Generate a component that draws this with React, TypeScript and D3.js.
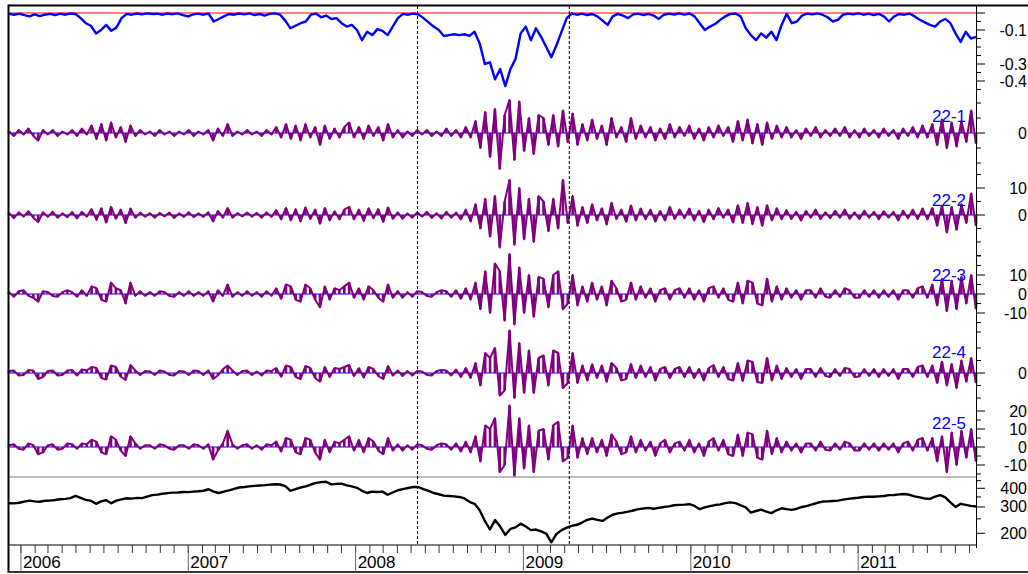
import React from "react";
import * as d3 from "d3";

// ---- series ----
const START = new Date(2005, 11, 6);
const END = new Date(2011, 8, 15);
const MARKER_DATES = [new Date(2008, 4, 15), new Date(2009, 3, 11)];

// drawdown of the index (fraction)
const DRAWDOWN = [
  -0.005, -0.01, -0.004, -0.012, -0.02, -0.008, -0.018, -0.01, -0.005, -0.012,
  -0.004, -0.01, -0.003, -0.006, -0.03, -0.06, -0.075, -0.12, -0.1, -0.07,
  -0.105, -0.085, -0.03, -0.005, -0.01, -0.003, -0.008, -0.002, -0.006, -0.004,
  -0.01, -0.003, -0.007, -0.002, -0.012, -0.02, -0.008, -0.004, -0.01, -0.003,
  -0.05, -0.035, -0.02, -0.006, -0.01, -0.003, -0.008, -0.002, -0.012, -0.006,
  -0.015, -0.004, -0.002, -0.01, -0.045, -0.09, -0.075, -0.06, -0.05, -0.01,
  -0.003, -0.025, -0.015, -0.035, -0.03, -0.06, -0.08, -0.07, -0.1, -0.16,
  -0.11, -0.13, -0.095, -0.105, -0.13, -0.08, -0.03, -0.005, -0.01, -0.003,
  -0.008, -0.03, -0.055, -0.08, -0.1, -0.135, -0.13, -0.125, -0.13, -0.125,
  -0.135, -0.11, -0.18, -0.3, -0.29, -0.39, -0.33, -0.43, -0.33, -0.27,
  -0.12, -0.08, -0.16, -0.09, -0.14, -0.2, -0.26, -0.19, -0.11, -0.03,
  -0.003, -0.01, -0.004, -0.012, -0.006, -0.02, -0.045, -0.07, -0.02, -0.005,
  -0.015, -0.03, -0.008, -0.004, -0.012, -0.005, -0.015, -0.035, -0.01, -0.004,
  -0.009, -0.002, -0.01, -0.003, -0.02, -0.06, -0.1, -0.08, -0.065, -0.04,
  -0.02, -0.005, -0.003, -0.02, -0.09, -0.13, -0.16, -0.12, -0.145, -0.11,
  -0.16, -0.07, -0.005, -0.06, -0.05, -0.015, -0.003, -0.008, -0.002, -0.01,
  -0.025, -0.05, -0.04, -0.01, -0.004, -0.008, -0.002, -0.01, -0.004, -0.012,
  -0.005, -0.02, -0.05, -0.02, -0.006, -0.01, -0.003, -0.02, -0.04, -0.055,
  -0.07, -0.08, -0.05, -0.035, -0.06, -0.12, -0.17, -0.11, -0.15, -0.14,
];

// index level (log axis)
const INDEX_LEVEL = [
  318, 317, 320, 326, 331, 327, 325, 330, 331, 334,
  338, 340, 344, 356, 345, 335, 330, 315, 327, 333,
  318, 331, 337, 343, 341, 345, 344, 352, 360, 363,
  368, 371, 374, 375, 378, 377, 380, 382, 385, 394,
  380, 372, 380, 387, 396, 405, 408, 412, 415, 418,
  420, 423, 426, 424, 413, 385, 395, 405, 412, 424,
  435, 440, 442, 425, 428, 430, 418, 412, 403, 385,
  372, 380, 378, 380, 362, 375, 388, 395, 402, 408,
  408, 395, 384, 372, 365, 357, 355, 353, 350, 342,
  325, 315, 285, 242, 212, 245, 222, 195, 214, 219,
  232, 222, 210, 212, 206, 199, 174, 198, 210, 218,
  224, 228, 236, 246, 251, 246, 242, 255, 266, 272,
  275, 279, 284, 290, 293, 296, 292, 296, 300, 303,
  308, 310, 311, 313, 305, 290, 298, 304, 309, 312,
  318, 322, 318, 308, 298, 275, 282, 288, 279, 273,
  285, 294, 290, 287, 292, 300, 305, 312, 320, 326,
  327, 329, 331, 336, 340, 343, 346, 350, 352, 351,
  353, 355, 360, 361, 364, 366, 362, 353, 348, 342,
  340, 352, 360, 348, 322, 300, 315, 310, 305, 302,
];

const OSC_22_1 = [
  1, -2, 2, -1, 3, -2, -5, 2, -1, 2,
  -2, 1, -1, 2, -2, 3, -1, 5, -4, 6,
  -5, 7, -3, 4, -6, 5, -2, 2, -1, 1,
  -2, 2, -1, 1, -2, 1, -1, 2, -2, 1,
  -1, 2, -5, 3, -2, 6, -2, 1, -1, 2,
  -1, 1, -2, 2, -1, 4, -3, 6, -4, 5,
  -5, 6, -3, 4, -8, 5, -4, 3, -3, 4,
  7, -3, 4, -4, 5, -2, 4, -5, 6, -3,
  2, -3, 1, -2, 2, -1, 2, -2, 1, -2,
  3, -2, 2, -3, 4, -3, 8, -10, 14, -16,
  16, -24, 12, 22, -18, 21, -12, 10, -14, 12,
  10, -8, 12, -9, 15, -6, 13, -8, 6, -5,
  9, -4, 5, -8, 10, -3, 4, -6, 10, -4,
  5, -3, 4, -5, 3, -4, 6, -3, 4, -2,
  5, -4, 3, -5, 4, -3, 5, -2, 4, -6,
  8, -5, 9, -7, 6, -8, 7, -4, 5, -3,
  4, -3, 2, -4, 3, -2, 4, -3, 2, -2,
  3, -2, 4, -3, 2, -3, 3, -2, 2, -3,
  3, -2, 2, -4, 3, -2, 4, -3, 5, -3,
  6, -8, 9, -10, 7, -9, 8, -6, 15, -7,
];

const OSC_22_2 = [
  0.8, -1.2, 1, -0.6, 1.4, -1, -2.6, 1, -0.7, 1.2,
  -1, 0.6, -0.8, 1.1, -1.3, 1.2, -0.6, 2.2, -1.8, 2.5,
  -2.8, 3, -1.4, 2, -3, 2.4, -1, 0.9, -0.6, 0.7,
  -1, 0.8, -0.5, 0.9, -1.1, 0.6, -0.7, 1, -0.8, 0.6,
  -0.7, 1, -2.4, 1.5, -1, 2.6, -1, 0.7, -0.5, 0.9,
  -0.6, 0.8, -1, 1, -0.7, 1.8, -1.6, 2.6, -2, 2.2,
  -2.4, 2.8, -1.5, 2, -3.2, 2.6, -2, 1.4, -1.6, 2,
  3, -1.6, 2, -2.2, 2.5, -1.2, 2.2, -2.6, 2.8, -1.4,
  1, -1.4, 0.6, -1, 1, -0.6, 1.2, -1.1, 0.7, -1.3,
  1.2, -1, 0.9, -1.6, 2, -2.4, 4, -5, 6, -8,
  7, -12, 5, 13, -11, 10, -9, 6, -10, 7,
  5, -6, 6, -5, 13, -3, 7, -4, 3, -3,
  4, -2, 2.5, -3.5, 4.5, -1.5, 2, -2.5, 3.5, -2,
  2.4, -1.6, 2, -2.4, 1.5, -2, 3, -1.5, 2, -1.2,
  2.4, -2, 1.6, -2.6, 2, -1.6, 2.6, -1, 2, -2.8,
  3.6, -3, 4.5, -3.4, 3, -4, 3.6, -2, 2.5, -1.6,
  1.8, -1.5, 1.2, -2, 1.5, -1, 2, -1.5, 1, -1.2,
  1.6, -1, 2, -1.4, 1, -1.5, 1.6, -1, 1.2, -1.6,
  1.4, -1, 1.2, -2, 1.6, -1.2, 2, -1.5, 2.4, -1.6,
  2.6, -4, 3.5, -6.5, 3, -5.5, 4, -3, 8, -4,
];

const OSC_22_3 = [
  1, -1.5, 1.5, 2, -1, -2, -4, 1.5, 1, -1,
  -1.5, 1, 2, 1, -1.5, 2, -1, 4, 3, -3,
  -4, 6, 3, 2, -5, 6, -1, 1.5, -1, 1,
  -1, 1.5, 1, -1, -1.5, 1, -1, 1.5, -1, 1,
  -1, 1.5, -4, 2, -1, 5, -1.5, 1, -1, 1.5,
  -1, 1, -1.5, 1.5, -1, 3, -2.5, 5, 4, -3,
  -4, 5, 3, -3, -7, 4, -3, 3, 2, 4,
  6, -2, 3, -3, 4, 2, -2, -4, 5, -2,
  1.5, -2, 1, -1.5, 1.5, 1, -1, -1.5, 1, 2,
  1.5, -1.5, 2, -2.5, 3, -3, 6, -8, 12, -10,
  16, 12, -14, 21, -16, 14, -10, 10, -12, 9,
  8, -7, 10, 12, -8, -5, 10, -6, 4, -4,
  6, -3, 4, -6, 7, 3, -4, -3, 6, -3,
  4, -2, 3, -4, 2, 3, -3, 2, 3, -2,
  3, -3, 2, -4, 3, 4, -2, 3, -3, -4,
  6, -5, 7, 6, -5, -6, 8, -4, 4, -3,
  3, -2, 2, -3, 2, 2, -2, 3, -1.5, -2,
  2, -1.5, 3, 2, -2, -2, 2, -1.5, 2, -2,
  2, -1.5, 2, -3, 2, 2, -2, 3, 4, -2,
  5, -6, 8, -9, 7, -8, 9, -5, 10, -8,
];

const OSC_22_4 = [
  0.8, 1, -1, -0.8, 1.2, 1, -2.4, -1.6, 0.8, 1,
  -1, -0.8, 1, 1.2, -1, 1.4, 1, 2.4, 2, -2,
  -2.6, 3, 2.4, -1.5, -2.8, 3.2, 1, -0.8, 0.8, 0.6,
  -0.8, 1, 0.6, -0.8, -1, 0.8, 0.6, -0.8, 1, 0.8,
  -0.8, 1, -2.4, -1, 1.5, 3, 1, -0.8, 0.8, 1,
  -0.8, 0.6, -1, 1, 0.8, 2, -1.5, 3, 2.4, -1.6,
  -2.4, 2.8, 2, -2, -3.5, 2.4, -1.6, 2, 1.6, 2.4,
  3.2, -1.2, 2, -1.8, 2.4, 1.6, -1.2, -2.4, 2.8, -1,
  1, -1.2, 0.8, -1, 0.8, 0.6, -0.8, -1, 0.8, 1.2,
  1, -1, 1.4, -1.6, 2, -2, 4, -5, 8, 6,
  10, -9, -7, 17, -10, 12, -8, 9, -8, 6,
  7, -5, 9, 8, -6, -4, 8, -4, 3, -3,
  3.5, -2, 3, -3.5, 4, 2, -3, -2.4, 3.6, -2,
  3, -1.6, 2.4, -3, 1.6, 2.4, -2, 1.6, 2.4, -1.6,
  2.4, -2, 1.6, -3, 2, 3.2, -1.6, 2.4, -2.4, -3,
  4, -3.2, 5, 4.4, -3.6, -4, 6, -3, 3, -2.4,
  2, -1.6, 1.6, -2.4, 1.6, 1.6, -1.6, 2, -1.2, -1.6,
  1.6, -1.2, 2, 1.6, -1.6, -1.4, 1.6, -1.2, 1.6, -1.6,
  1.6, -1.2, 1.6, -2.4, 1.6, 1.6, -1.6, 2.4, 3, -1.6,
  3, -4, 4.5, -5, 3.6, -6, 5, -3.5, 6, -4,
];

const OSC_22_5 = [
  1, 1.5, -1, -1.5, 2, 1, -4, -3, 1, 1.5,
  -1.5, -1, 2, 1.5, -1, 2, 1.5, 4, 3, -3,
  -4, 6, 4, -2, -5, 6, 2, -1, 1, 1,
  -1, 1.5, 1, -1, -1.5, 1, 1, -1, 1.5, 1,
  -1, 1.5, -7, -2, 2, 9, 1.5, -1, 1, 1.5,
  -1, 1, -1.5, 1.5, 1, 3, -2.5, 5, 4, -3,
  -4, 5, 4, -3, -7, 4, -3, 3, 2, 4,
  6, -2, 4, -3, 5, 3, -2, -4, 5, -2,
  1.5, -2, 1, -1.5, 1.5, 1, -1, -1.5, 1, 2,
  1.5, -1.5, 2, -2.5, 3, -3, 6, -8, 12, 10,
  16, -14, -10, 23, -16, 16, -12, 12, -14, 9,
  10, -7, 12, 14, -8, -6, 12, -6, 5, -4,
  5, -3, 4, -5, 7, 3, -4, -3, 6, -3,
  4, -2, 3, -5, 2, 4, -3, 2, 3, -2,
  4, -3, 2, -5, 3, 5, -2, 4, -4, -5,
  7, -5, 8, 7, -6, -7, 9, -4, 5, -3,
  3, -2, 2, -3, 2, 2, -2, 3, -1.5, -2,
  2, -1.5, 3, 2, -2, -2, 2, -1.5, 2, -2,
  2, -1.5, 2, -3, 2, 3, -2, 4, 5, -2,
  5, -8, 6, -14, 8, -10, 9, -6, 10, -8,
];

const OSC_NAMES = ["22-1", "22-2", "22-3", "22-4", "22-5"];
const DRAWDOWN_TICK_LABELS = [-0.1, -0.3, -0.4];
const OSC_TICK_LABELS = [[0], [10, 0], [10, 0, -10], [0], [20, 10, 0, -10]];
const INDEX_TICKS = [200, 250, 300, 350, 400, 450];
const INDEX_TICK_LABELS = [400, 300, 200];

// ---- layout ----
const W = 1028;
const H = 574;
const LEFT = 9;
const RIGHT = 976;
const TOP = 6;
const PLOT_BOTTOM = 545;
const INDEX_TOP = 477;
const AXIS_BOTTOM = 572;
const FONT = "'Liberation Sans', Arial, Helvetica, sans-serif";
const PURPLE = "#800080";
const BLUE = "#0000ff";
const BAR_W = 2.6;

const dateGrid = (n: number) => {
  const t0 = +START;
  const t1 = +END;
  return d3.range(n).map((i) => new Date(t0 + ((t1 - t0) * i) / (n - 1)));
};

type Scale = (v: number) => number;

function RightTicks({ scale, ticks, labels, fmt }: { scale: Scale; ticks: number[]; labels: number[]; fmt: (v: number) => string }) {
  return (
    <g>
      {ticks.map((t, i) => {
        const major = labels.includes(t) || t === 0;
        const y = scale(t);
        return <line key={"t" + i} x1={RIGHT} x2={RIGHT + (major ? 9 : 5)} y1={y} y2={y} stroke="#000" strokeWidth={1} />;
      })}
      {labels.map((t, i) => (
        <text key={"l" + i} x={1027} y={scale(t)} textAnchor="end" dominantBaseline="central" fontSize={16} fontFamily={FONT} fill="#000">
          {fmt(t)}
        </text>
      ))}
    </g>
  );
}

export default function App() {
  const x = d3.scaleTime().domain([START, END]).range([LEFT, RIGHT]);

  // drawdown panel
  const yDD = d3.scaleLinear().domain([-0.45, 0]).range([89.5, 13]);
  const ddDates = dateGrid(DRAWDOWN.length);
  const ddPath = d3
    .line<number>()
    .x((_, i) => x(ddDates[i]))
    .y((d) => yDD(d))(DRAWDOWN);

  // oscillator panels: a spike from zero for each value, joined by a line
  const oscPanels = [
    { values: OSC_22_1, domain: [-25, 25], range: [170.5, 95.5], step: 10, labelDy: 17 },
    { values: OSC_22_2, domain: [-15, 15], range: [255.5, 174.5], step: 5, labelDy: 15 },
    { values: OSC_22_3, domain: [-20, 20], range: [332, 256], step: 5, labelDy: 19 },
    { values: OSC_22_4, domain: [-12, 12], range: [403, 343], step: 5, labelDy: 21 },
    { values: OSC_22_5, domain: [-16, 20], range: [475.8, 411], step: 5, labelDy: 24 },
  ].map((p, k) => {
    const y = d3.scaleLinear().domain(p.domain).range(p.range);
    const dates = dateGrid(p.values.length);
    const y0 = y(0);
    const bars = p.values.map((v, i) => {
      const yv = y(v);
      const h = Math.max(Math.abs(yv - y0), 2);
      return { x: x(dates[i]) - BAR_W / 2, y: v >= 0 ? y0 - h : y0, h };
    });
    const path = d3
      .line<number>()
      .x((_, i) => x(dates[i]))
      .y((d) => y(d))(p.values);
    const ticks = d3
      .range(Math.ceil(p.domain[0] / p.step) * p.step, p.domain[1] + 1e-6, p.step)
      .filter((t) => t >= p.domain[0] && t <= p.domain[1]);
    return { ...p, y, bars, path, ticks, name: OSC_NAMES[k], labels: OSC_TICK_LABELS[k] };
  });

  // index panel (log scale)
  const yIdx = d3.scaleLog().domain([167, 476]).range([PLOT_BOTTOM, INDEX_TOP]);
  const idxDates = dateGrid(INDEX_LEVEL.length);
  const idxPath = d3
    .line<number>()
    .x((_, i) => x(idxDates[i]))
    .y((d) => yIdx(d))(INDEX_LEVEL);

  // time axis
  const months = d3.timeMonth.range(d3.timeMonth.ceil(START), END);
  const years = d3.timeYear.range(d3.timeYear.ceil(START), END);
  const fmtYear = d3.timeFormat("%Y");

  return (
    <svg
      width={W}
      height={H}
      viewBox={`0 0 ${W} ${H}`}
      style={{ position: "absolute", left: 0, top: 0, background: "#fff", display: "block" }}
    >
      <rect x={0} y={0} width={W} height={H} fill="#fff" />

      {/* drawdown */}
      <line x1={LEFT} x2={RIGHT} y1={yDD(0)} y2={yDD(0)} stroke="#ff0000" strokeWidth={1} />
      <path d={ddPath ?? ""} fill="none" stroke={BLUE} strokeWidth={2.4} strokeLinejoin="round" />
      <RightTicks
        scale={yDD}
        ticks={d3.range(0, -0.4501, -0.05).map((v) => Math.round(v * 100) / 100)}
        labels={DRAWDOWN_TICK_LABELS}
        fmt={(v) => String(v)}
      />

      {/* oscillators */}
      {oscPanels.map((p, k) => (
        <g key={k}>
          <line x1={LEFT} x2={RIGHT} y1={p.y(0)} y2={p.y(0)} stroke={BLUE} strokeWidth={1} />
          <path d={p.path ?? ""} fill="none" stroke={PURPLE} strokeWidth={2} strokeLinejoin="round" />
          <g fill={PURPLE}>
            {p.bars.map((b, i) => (
              <rect key={i} x={b.x} y={b.y} width={BAR_W} height={b.h} />
            ))}
          </g>
          <text x={966} y={p.y(0) - p.labelDy} textAnchor="end" dominantBaseline="central" fontSize={17} fontFamily={FONT} fill={BLUE}>
            {p.name}
          </text>
          <RightTicks scale={p.y} ticks={p.ticks} labels={p.labels} fmt={(v) => String(v)} />
        </g>
      ))}

      {/* index */}
      <line x1={LEFT} x2={RIGHT} y1={INDEX_TOP} y2={INDEX_TOP} stroke="#777" strokeWidth={1} />
      <path d={idxPath ?? ""} fill="none" stroke="#000" strokeWidth={2.4} strokeLinejoin="round" />
      <RightTicks scale={yIdx} ticks={INDEX_TICKS} labels={INDEX_TICK_LABELS} fmt={(v) => String(v)} />

      {/* event markers */}
      {MARKER_DATES.map((d, i) => (
        <line key={i} x1={x(d)} x2={x(d)} y1={TOP} y2={PLOT_BOTTOM} stroke="#000" strokeWidth={1} strokeDasharray="3,2" />
      ))}

      {/* frame */}
      <line x1={RIGHT + 0.5} x2={RIGHT + 0.5} y1={TOP} y2={PLOT_BOTTOM + 3} stroke="#000" strokeWidth={1} />
      <line x1={LEFT - 1} x2={RIGHT} y1={PLOT_BOTTOM} y2={PLOT_BOTTOM} stroke="#000" strokeWidth={1} />
      <line x1={LEFT - 1} x2={W} y1={TOP - 0.5} y2={TOP - 0.5} stroke="#000" strokeWidth={2} />
      <line x1={LEFT - 0.5} x2={LEFT - 0.5} y1={TOP - 1.5} y2={AXIS_BOTTOM + 1} stroke="#000" strokeWidth={2} />
      <line x1={LEFT - 1} x2={W} y1={AXIS_BOTTOM} y2={AXIS_BOTTOM} stroke="#333" strokeWidth={2} />

      {/* time axis */}
      {months.map((m, i) => (
        <line key={"m" + i} x1={x(m)} x2={x(m)} y1={PLOT_BOTTOM} y2={PLOT_BOTTOM + 8} stroke="#333" strokeWidth={1} />
      ))}
      {years.map((yv, i) => (
        <g key={"y" + i}>
          <line x1={x(yv)} x2={x(yv)} y1={PLOT_BOTTOM} y2={AXIS_BOTTOM} stroke="#666" strokeWidth={1} />
          <text x={x(yv) + 2} y={568} fontSize={17} fontFamily={FONT} fill="#000">
            {fmtYear(yv)}
          </text>
        </g>
      ))}
    </svg>
  );
}
